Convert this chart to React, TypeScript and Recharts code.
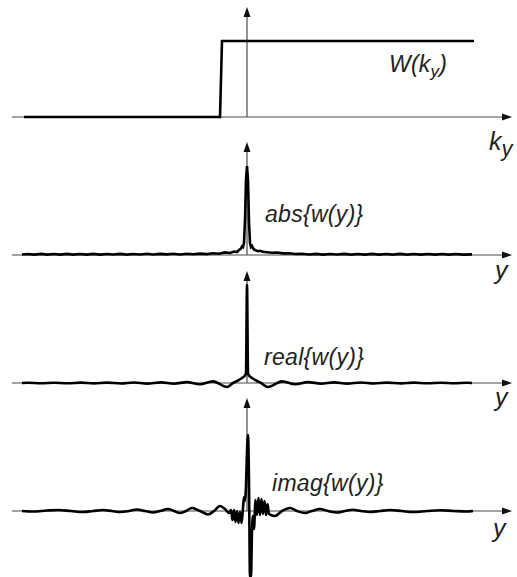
import React from 'react';
import { LineChart, Line, XAxis, YAxis, ReferenceLine } from 'recharts';

// ---------- data ----------
// horizontal positions (arbitrary units, 0 = vertical axis)
const xDomain: [number, number] = [-247, 270];
const axisStart = -235;
const axisEnd = 265;

// Panel 1: W(k_y) step
const stepX = [-223, -27, -25, 227];
const stepV = [0, 0, 76, 76];

// Panel 2: abs{w(y)}
const absX = [-225, -219, -213, -206, -200, -193, -187, -180, -174, -167, -160, -154, -147, -140, -134, -127, -120, -114, -107, -100, -94, -87, -80, -74, -67, -60, -54, -47, -40, -34, -28, -22, -17, -13, -10, -8, -6, -5, -4, -3, -2, -1, 0, 1, 2, 3, 4, 5, 6, 7, 9, 11, 13, 16, 20, 25, 30, 36, 42, 48, 55, 62, 69, 76, 83, 90, 97, 104, 111, 118, 125, 132, 139, 146, 153, 160, 167, 174, 181, 188, 195, 202, 209, 216, 225];
const absV = [0.5, 1.0, 0.4, 1.1, 0.4, 1.0, 0.4, 1.1, 0.4, 1.0, 0.4, 1.1, 0.4, 1.0, 0.5, 1.1, 0.4, 1.0, 0.5, 1.2, 0.5, 1.1, 0.6, 1.2, 0.5, 1.3, 0.7, 1.4, 0.9, 1.8, 1.2, 2.6, 2.0, 3.5, 3.0, 5.0, 6.5, 8.5, 8.0, 12, 35, 75, 89, 75, 33, 12, 8, 9, 7, 5.5, 4.5, 3.8, 4.2, 3.2, 2.8, 2.2, 2.5, 1.6, 1.8, 1.0, 1.3, 0.5, 1.1, 0.4, 1.0, 0.5, 1.1, 0.4, 1.0, 0.4, 1.1, 0.4, 1.0, 0.4, 1.1, 0.4, 1.0, 0.4, 1.0, 0.4, 1.0, 0.4, 1.0, 0.4, 0.6];

// Panel 3: real{w(y)}
const realX = [-225, -219, -206, -193, -180, -166, -153, -140, -126, -113, -100, -86, -73, -60, -47, -34, -20, -14, -9, -5, -2, -1, 0, 1, 2, 5, 9, 14, 21, 35, 48, 61, 74, 87, 100, 114, 127, 140, 154, 167, 180, 194, 207, 220, 225];
const realV = [0, 0.3, -0.3, 0.3, -0.3, 0.4, -0.4, 0.4, -0.5, 0.5, -0.6, 0.6, -0.7, 0.9, -1.3, 1.6, -4, 0, 2.5, 5, 7.5, 10, 98, 10, 7.5, 5, 2.5, 0, -4, 1.6, -1.3, 0.9, -0.7, 0.6, -0.6, 0.5, -0.5, 0.4, -0.4, 0.4, -0.3, 0.3, -0.3, 0.3, 0];

// Panel 4: imag{w(y)}
const imagX = [-225, -214, -200, -189, -176, -164, -154, -144, -135, -127, -118, -110, -102, -94, -87, -79, -73, -67, -61, -55, -47, -39, -33, -27, -22, -18, -16, -14.5, -13, -11.5, -10, -8.5, -7, -5.5, -4, -3, -2, -1, 0, 1, 2, 3, 4, 5, 6, 7, 8.5, 10, 11.5, 13, 14.5, 16, 17.5, 19, 20.5, 22, 28, 35, 43, 50, 58, 65, 73, 81, 90, 98, 106, 114, 123, 133, 143, 155, 166, 180, 193, 207, 220, 226];
const imagV = [0, -0.5, 0.5, 1, 0, -1, 0, 1, 0, -1, 0, 1.5, 0, -1.5, 0, 2, 0, -2, 0, 3, 0, -3.5, 0, 5, 2, -2, 1, -9, 1, -11, 0, -12, -1, -12, 3, 14, 10, 25, 60, 76, 30, -66, -66, -20, -5, -18, 11, -4, 13, -4, 12, -3, 10, -4, 7, -3, -5, 0, 3, 0, -2, 0, 2, 0, -1.5, 0, 1.2, 0, -1, 0, 1, 0, -1, 0, 0.8, 0, -0.5, 0];

// labels
const panelLabels = ['W(k', 'abs{w(y)}', 'real{w(y)}', 'imag{w(y)}'];
const axisLabels = ['k', 'y', 'y', 'y'];

const build = (xs: number[], vs: number[]) => xs.map((x, i) => ({ x, v: vs[i] }));

// ---------- drawing ----------
const ArrowShape = (props: any) => {
  const { x1, y1, x2, y2 } = props;
  const dx = x2 - x1;
  const dy = y2 - y1;
  const len = Math.hypot(dx, dy) || 1;
  const ux = dx / len;
  const uy = dy / len;
  const L = 10;
  const hw = 3.5;
  const bx = x2 - ux * L;
  const by = y2 - uy * L;
  const pts = `${x2},${y2} ${bx - uy * hw},${by + ux * hw} ${bx + uy * hw},${by - ux * hw}`;
  return (
    <g>
      <line x1={x1} y1={y1} x2={bx + ux * 2} y2={by + uy * 2} stroke="#4a4a4a" strokeWidth={1.2} />
      <polygon points={pts} fill="#111" />
    </g>
  );
};

type PanelProps = {
  top: number;
  height: number;
  lo: number;
  hi: number;
  data: { x: number; v: number }[];
  tip: number;
  curve: 'linear' | 'monotone';
  width?: number;
};

const Panel = ({ top, height, lo, hi, data, tip, curve, width = 2.6 }: PanelProps) => (
  <div style={{ position: 'absolute', left: 0, top, width: 517, height }}>
    <LineChart width={517} height={height} data={data} margin={{ top: 0, right: 0, bottom: 0, left: 0 }}>
      <XAxis type="number" dataKey="x" domain={xDomain} hide allowDataOverflow />
      <YAxis type="number" domain={[lo, hi]} hide allowDataOverflow />
      <ReferenceLine
        segment={[{ x: axisStart, y: 0 }, { x: axisEnd, y: 0 }]}
        shape={ArrowShape}
        ifOverflow="visible"
      />
      <ReferenceLine
        segment={[{ x: 0, y: 0 }, { x: 0, y: tip }]}
        shape={ArrowShape}
        ifOverflow="visible"
      />
      <Line
        type={curve}
        dataKey="v"
        stroke="#000"
        strokeWidth={width}
        dot={false}
        activeDot={false}
        isAnimationActive={false}
      />
    </LineChart>
  </div>
);

const labelFont = '"Liberation Sans", Arial, Helvetica, sans-serif';

const Label = ({ left, top, size, children, spacing = 0 }: any) => (
  <div
    style={{
      position: 'absolute',
      left,
      top,
      fontFamily: labelFont,
      fontStyle: 'italic',
      fontSize: size,
      lineHeight: `${size}px`,
      letterSpacing: spacing,
      color: '#222',
      whiteSpace: 'nowrap',
    }}
  >
    {children}
  </div>
);

export default function App() {
  return (
    <div style={{ position: 'absolute', left: 0, top: 0, width: 517, height: 577, background: '#fff', overflow: 'hidden' }}>
      <Panel top={0} height={130} lo={-13} hi={117} data={build(stepX, stepV)} tip={110} curve="linear" width={2.6} />
      <Panel top={130} height={135} lo={-10} hi={125} data={build(absX, absV)} tip={113} curve="linear" />
      <Panel top={265} height={130} lo={-12} hi={118} data={build(realX, realV)} tip={112} curve="monotone" />
      <Panel top={395} height={182} lo={-66} hi={116} data={build(imagX, imagV)} tip={113} curve="monotone" />

      <Label left={389} top={53} size={23} spacing={0.2}>
        {panelLabels[0]}
        <span style={{ fontSize: 17, position: 'relative', top: 5 }}>y</span>)
      </Label>
      <Label left={265} top={203} size={23} spacing={0.3}>{panelLabels[1]}</Label>
      <Label left={264} top={346} size={23} spacing={0.3}>{panelLabels[2]}</Label>
      <Label left={272} top={472} size={23} spacing={0.3}>{panelLabels[3]}</Label>

      <Label left={489} top={129} size={25}>
        {axisLabels[0]}
        <span style={{ fontSize: 22, position: 'relative', top: 6 }}>y</span>
      </Label>
      <Label left={495} top={258} size={25}>{axisLabels[1]}</Label>
      <Label left={495} top={385} size={25}>{axisLabels[2]}</Label>
      <Label left={493} top={516} size={25}>{axisLabels[3]}</Label>
    </div>
  );
}
